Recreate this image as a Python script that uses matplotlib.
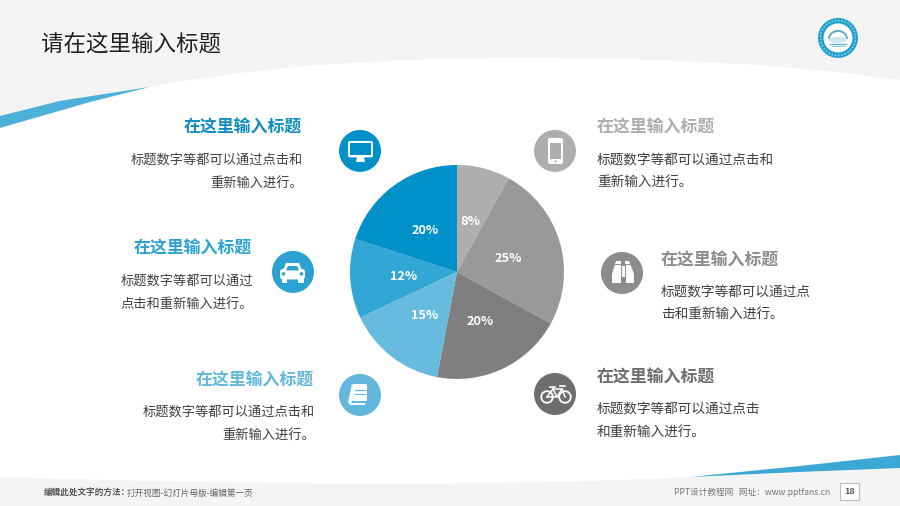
import matplotlib
matplotlib.use("Agg")
import matplotlib.pyplot as plt
from matplotlib.patches import Circle, Rectangle, Polygon, Ellipse, FancyBboxPatch, PathPatch, Arc
from matplotlib.path import Path

plt.rcParams['font.family'] = ['Noto Sans CJK SC', 'DejaVu Sans']

# pie data, clockwise from 12 o'clock
pieValues = [8, 25, 20, 15, 12, 20]
pieColors = ['#aeaeae', '#999999', '#7f7f7f', '#67bbdf', '#32a6d5', '#0091c8']

titleText = '请在这里输入标题'
headText = '在这里输入标题'
footLeftBold = '编辑此处文字的方法：'
footLeft = '打开视图-幻灯片母版-编辑第一页'
footRight = 'PPT设计教程网   网址：www.pptfans.cn'
pageNo = '18'

# text blocks: head x, head y, head colour, align, body lines, body y
blocks = [
    (302, 128, '#0f8dbf', 'right', ['标题数字等都可以通过点击和', '重新输入进行。'], [160, 183]),
    (252, 249, '#2ba2d2', 'right', ['标题数字等都可以通过', '点击和重新输入进行。'], [281, 304]),
    (314, 381, '#62b8dc', 'right', ['标题数字等都可以通过点击和', '重新输入进行。'], [412, 435]),
    (597, 128, '#aeaeae', 'left', ['标题数字等都可以通过点击和', '重新输入进行。'], [160, 183]),
    (661, 261, '#8c8c8c', 'left', ['标题数字等都可以通过点', '击和重新输入进行。'], [292, 315]),
    (597, 378, '#6e6e6e', 'left', ['标题数字等都可以通过点击', '和重新输入进行。'], [409, 433]),
]

# icon circles
iconX = [360, 293, 360, 555, 622, 555]
iconY = [151, 272, 395, 151, 273, 394]
iconColors = ['#0091c8', '#2ba2d2', '#62b8dc', '#aeaeae', '#8c8c8c', '#6e6e6e']

fig = plt.figure(figsize=(9, 5.061), dpi=100)
ax = fig.add_axes([0, 0, 1, 1])
ax.set_xlim(0, 900)
ax.set_ylim(506, 0)
ax.axis('off')

grey = '#f4f4f4'

# top band with curved lower edge
topVerts = [(0, 0), (900, 0), (900, 80), (760, 60), (620, 58), (517, 58),
            (400, 58), (270, 64), (150, 87), (0, 128), (0, 0)]
topCodes = [Path.MOVETO, Path.LINETO, Path.LINETO, Path.CURVE4, Path.CURVE4, Path.CURVE4,
            Path.CURVE4, Path.CURVE4, Path.CURVE4, Path.LINETO, Path.CLOSEPOLY]
ax.add_patch(PathPatch(Path(topVerts, topCodes), fc=grey, ec='none'))

# bottom band
botVerts = [(0, 506), (900, 506), (900, 468), (690, 477), (500, 487), (250, 485), (0, 477), (0, 506)]
botCodes = [Path.MOVETO, Path.LINETO, Path.LINETO, Path.LINETO, Path.CURVE4, Path.CURVE4, Path.CURVE4, Path.CLOSEPOLY]
ax.add_patch(PathPatch(Path(botVerts, botCodes), fc=grey, ec='none'))

# swooshes
ax.add_patch(Polygon([(0, 116), (60, 101), (150, 87), (90, 102), (0, 128)], fc='#4db0d8', ec='none'))
ax.add_patch(Polygon([(690, 477), (800, 466), (900, 455), (900, 468), (800, 472)], fc='#3ba7d4', ec='none'))

ax.text(41, 44, titleText, fontsize=16.2, color='#222222', ha='left', va='center')

# logo
ax.add_patch(Circle((838, 38), 20, fc='#1ba0cc', ec='none'))
ax.add_patch(Circle((838, 38), 17.5, fc='none', ec='#8fd0e6', lw=1.2, ls=(0, (1, 1))))
ax.add_patch(Circle((838, 38), 14.5, fc='white', ec='none'))
ax.add_patch(Arc((838, 39), 18, 16, theta1=180, theta2=360, ec='#5fa9c6', lw=1.4))
ax.add_patch(Ellipse((838, 40), 17, 6, fc='#cfe6f0', ec='none'))
ax.plot([830, 846], [44, 44], color='#5fb5d3', lw=1)
ax.plot([832, 844], [46.5, 46.5], color='#8fcbe0', lw=0.8)

for hx, hy, hc, al, lines, ys in blocks:
    ax.text(hx, hy, headText, fontsize=12.2, fontweight='bold', color=hc, ha=al, va='center')
    # body text on the right hand side runs a bit wider in the picture
    size = 9.5 if al == 'right' else 9.85
    dx = 1 if al == 'right' else 0
    for s, y in zip(lines, ys):
        ax.text(hx + dx, y, s, fontsize=size, color='#404040', ha=al, va='center')

for x, y, c in zip(iconX, iconY, iconColors):
    ax.add_patch(Circle((x, y), 21, fc=c, ec='none'))

# monitor
ax.add_patch(FancyBboxPatch((348, 141), 25, 16.5, boxstyle='round,pad=0,rounding_size=2', fc='white', ec='none'))
ax.add_patch(Rectangle((350, 143.5), 21, 11.5, fc='#0091c8', ec='none'))
ax.add_patch(Polygon([(357, 157), (364, 157), (365, 162), (356, 162)], fc='white', ec='none'))

# car
ax.add_patch(FancyBboxPatch((280, 269), 25, 10.5, boxstyle='round,pad=0,rounding_size=3', fc='white', ec='none'))
ax.add_patch(Polygon([(283, 270), (286, 263), (299, 263), (302, 270)], fc='white', ec='none'))
ax.add_patch(Polygon([(286, 270.5), (288, 266), (297, 266), (299, 270.5)], fc='#2ba2d2', ec='none'))
ax.add_patch(Rectangle((282, 279), 5, 4, fc='white', ec='none'))
ax.add_patch(Rectangle((298, 279), 5.5, 4, fc='white', ec='none'))
ax.add_patch(Circle((283.5, 274), 1.8, fc='#2ba2d2', ec='none'))
ax.add_patch(Circle((301.5, 274), 1.8, fc='#2ba2d2', ec='none'))

# book
ax.add_patch(FancyBboxPatch((352, 384), 15, 17, boxstyle='round,pad=0,rounding_size=1.5', fc='white', ec='none'))
ax.add_patch(Polygon([(352, 384), (348, 402), (350, 405), (365, 405), (365.5, 403), (351, 403), (352, 401)], fc='white', ec='none'))
ax.plot([355, 365], [390, 390], color='#62b8dc', lw=0.8)
ax.plot([354.5, 364.5], [394, 394], color='#62b8dc', lw=0.8)

# phone
ax.add_patch(FancyBboxPatch((548, 138), 15, 26, boxstyle='round,pad=0,rounding_size=2', fc='white', ec='none'))
ax.add_patch(Rectangle((550, 143), 11, 16, fc='#aeaeae', ec='none'))
ax.add_patch(Circle((555.5, 161.5), 1.1, fc='#aeaeae', ec='none'))

# binoculars
ax.add_patch(Polygon([(616, 261), (621, 261), (621, 283), (612, 283), (612, 274)], fc='white', ec='none'))
ax.add_patch(Polygon([(625, 261), (629, 261), (634, 274), (634, 283), (625, 283)], fc='white', ec='none'))
ax.add_patch(Rectangle((621, 266), 4, 11, fc='white', ec='none'))
ax.plot([621, 621], [265, 283], color='#8c8c8c', lw=0.7)
ax.plot([625, 625], [265, 283], color='#8c8c8c', lw=0.7)
ax.plot([612, 621], [264.5, 264.5], color='#8c8c8c', lw=0.7)
ax.plot([625, 634], [264.5, 264.5], color='#8c8c8c', lw=0.7)

# bicycle
ax.add_patch(Circle((547, 397), 5.8, fc='none', ec='white', lw=1.3))
ax.add_patch(Circle((565, 397), 5.8, fc='none', ec='white', lw=1.3))
ax.plot([547, 553, 562, 565], [397, 389, 389, 397], color='white', lw=1.1)
ax.plot([547, 557, 562], [397, 397, 389], color='white', lw=1.1)
ax.plot([553, 557], [389, 397], color='white', lw=1.1)
ax.plot([550, 555], [387, 387], color='white', lw=1.2)
ax.plot([560, 565], [386, 386], color='white', lw=1.2)

# footer
ax.text(44, 493, footLeftBold, fontsize=6.2, fontweight='bold', color='#555555', ha='left', va='center')
ax.text(127, 493, footLeft, fontsize=6.2, color='#666666', ha='left', va='center')
ax.text(830, 492, footRight, fontsize=6.2, color='#777777', ha='right', va='center')
ax.add_patch(Rectangle((840, 483), 19, 17, fc='white', ec='#bdbdbd', lw=0.8))
ax.text(849.5, 491.5, pageNo, fontsize=6.5, fontweight='bold', color='#555555', ha='center', va='center')

# pie in its own axes, centre (457, 272) r 107
cx, cy, r = 457, 272, 107
axp = fig.add_axes([(cx - r) / 900, 1 - (cy + r) / 506, 2 * r / 900, 2 * r / 506])
wedges, texts, autotexts = axp.pie(pieValues, colors=pieColors, startangle=90, counterclock=False,
                                   radius=1, autopct='%.0f%%', pctdistance=0.5,
                                   wedgeprops={'linewidth': 0},
                                   textprops={'fontsize': 9.2, 'fontweight': 'bold', 'color': 'white'})
axp.set_xlim(-1, 1)
axp.set_ylim(-1, 1)
for w in wedges:
    w.set_clip_on(False)
for t in autotexts:
    px, py = t.get_position()
    t.set_position((px, py - 0.012))

fig.savefig('out.png', dpi=100)
